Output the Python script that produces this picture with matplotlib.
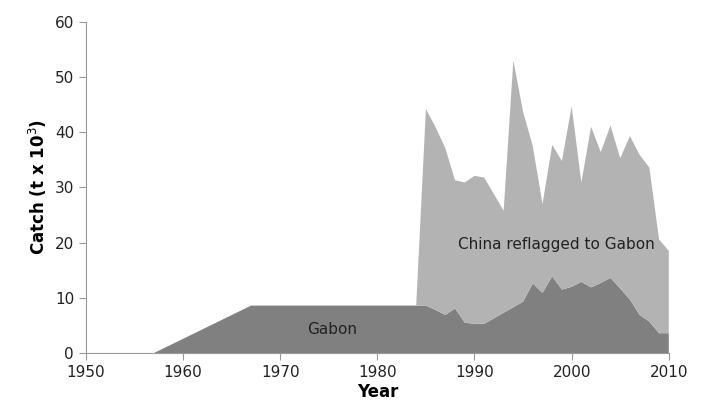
import numpy as np
import matplotlib.pyplot as plt

years = [1950, 1957, 1967, 1984, 1985, 1986, 1987, 1988, 1989, 1990, 1991, 1992,
         1993, 1994, 1995, 1996, 1997, 1998, 1999, 2000, 2001, 2002, 2003, 2004,
         2005, 2006, 2007, 2008, 2009, 2010]
gabon = [0, 0, 8.6, 8.6, 8.6, 7.8, 6.9, 8.1, 5.5, 5.3, 5.3, 6.3,
         7.3, 8.3, 9.3, 12.6, 10.9, 13.9, 11.5, 12.0, 12.9, 11.9, 12.7, 13.6,
         11.7, 9.7, 6.9, 5.7, 3.6, 3.6]
total = [0, 0, 8.6, 8.6, 44.2, 40.9, 37.1, 31.3, 30.9, 32.1, 31.8, 28.8,
         25.8, 53.0, 43.7, 37.5, 27.0, 37.7, 34.8, 44.7, 30.9, 41.0, 36.4, 41.2,
         35.3, 39.3, 35.9, 33.6, 20.6, 18.5]
china = np.array(total) - np.array(gabon)

fig = plt.figure(figsize=(7.04, 4.12), dpi=100)
ax = fig.add_axes([0.122, 0.143, 0.828, 0.804])

ax.stackplot(years, gabon, china, colors=["#808080", "#b3b3b3"], linewidth=0)

ax.text(1975.3, 4.3, "Gabon", fontsize=11, ha="center", va="center", color="#222222")
ax.text(1998.4, 19.7, "China reflagged to Gabon", fontsize=11, ha="center", va="center",
        color="#222222")

ax.set_xlim(1950, 2010)
ax.set_ylim(0, 60)
ax.set_xticks(np.arange(1950, 2011, 10))
ax.set_yticks(np.arange(0, 61, 10))
ax.tick_params(labelsize=11, color="#999999", length=5, labelcolor="#222222")

for s in ["top", "right"]:
    ax.spines[s].set_visible(False)
for s in ["left", "bottom"]:
    ax.spines[s].set_color("#999999")

ax.set_xlabel("Year", fontsize=12, fontweight="bold", labelpad=2)
ax.set_ylabel("Catch (t x 10$^3$)", fontsize=12, fontweight="bold")

fig.savefig("out.png", dpi=100)
